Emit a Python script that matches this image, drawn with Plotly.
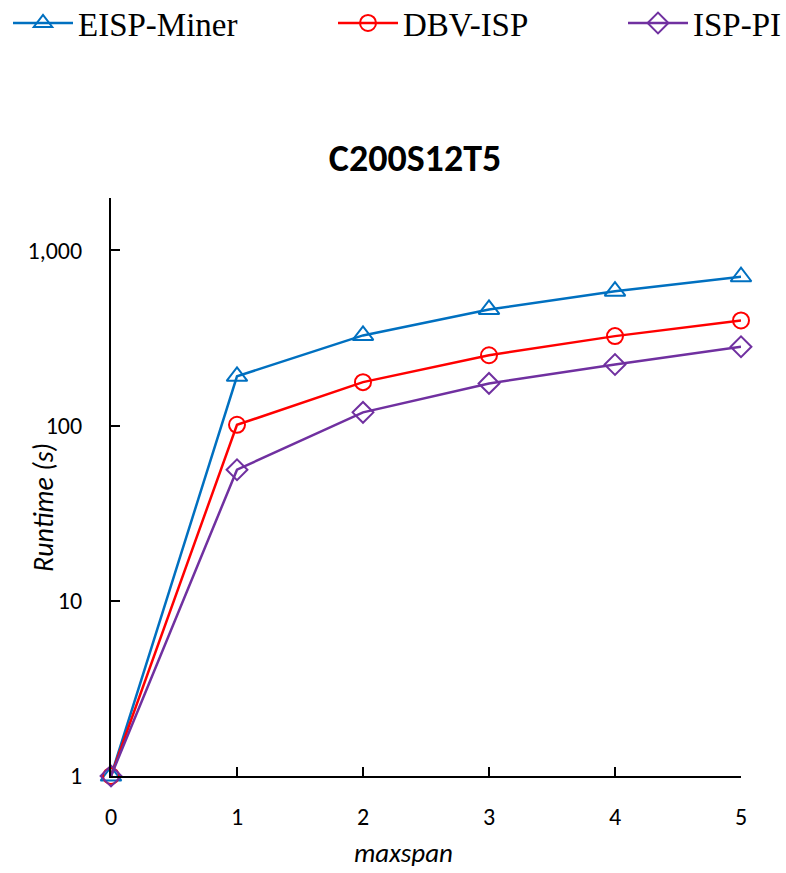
import plotly.graph_objects as go
import math

maxspan = [0, 1, 2, 3, 4, 5]
eisp_miner = [1, 191, 327, 460, 585, 707]
dbv_isp = [1, 101, 177, 252, 324, 398]
isp_pi = [1, 56, 119, 174, 223, 282]

y_tickvals = [1, 10, 100, 1000]
y_ticktext = ["1", "10", "100", "1,000"]
x_tickvals = [0, 1, 2, 3, 4, 5]

W, H = 786, 873
L, R, T, B = 111, 45, 198, 97
PW, PH = W - L - R, H - T - B
FONT = "Carlito, Lato, sans-serif"
tick_font = dict(family=FONT, size=24, color="black")

fig = go.Figure()
series = [
    ("EISP-Miner", eisp_miner, "#0070C0", "triangle-up-open", 18, "legend", 8),
    ("DBV-ISP", dbv_isp, "#FF0000", "circle-open", 16, "legend2", 333),
    ("ISP-PI", isp_pi, "#7030A0", "diamond-open", 16, "legend3", 623),
]
for name, vals, col, sym, sz, lg, _ in series:
    fig.add_trace(go.Scatter(
        x=maxspan, y=vals, name=name, mode="lines+markers",
        line=dict(color=col, width=2.5),
        marker=dict(symbol=sym, size=sz, color=col, line=dict(color=col, width=2)),
        cliponaxis=False, legend=lg,
    ))

legend_common = dict(
    orientation="h", xref="container", yref="container",
    yanchor="middle", xanchor="left", y=1.0 - 23 / H,
    font=dict(family="Liberation Serif, Times New Roman, serif", size=33, color="black"),
    bgcolor="rgba(0,0,0,0)", itemwidth=60, tracegroupgap=0,
)
layout_legends = {}
for name, vals, col, sym, sz, lg, px in series:
    layout_legends[lg] = dict(legend_common, x=px / W)

fig.update_layout(
    width=W, height=H,
    margin=dict(l=L, r=R, t=T, b=B),
    plot_bgcolor="white", paper_bgcolor="white",
    showlegend=True,
    title=dict(text="<b>C200S12T5</b>", x=415 / W, xanchor="center",
               y=1 - 158 / H, yanchor="middle",
               font=dict(family=FONT, size=38, color="black")),
    xaxis=dict(
        range=[0, 5], tickvals=x_tickvals, ticks="inside", ticklen=9, tickwidth=2,
        tickcolor="black", showline=True, linecolor="black", linewidth=2,
        showgrid=False, zeroline=False, tickfont=tick_font, ticklabelstandoff=18,
    ),
    yaxis=dict(
        type="log", range=[0, math.log10(1990)], tickvals=y_tickvals, ticktext=y_ticktext,
        ticks="inside", ticklen=9, tickwidth=2, tickcolor="black",
        showline=True, linecolor="black", linewidth=2, showgrid=False, zeroline=False,
        tickfont=tick_font, ticklabelstandoff=22,
    ),
    annotations=[
        dict(text="<i>Runtime (s)</i>", textangle=-90, xref="paper", yref="paper",
             x=(43 - L) / PW, y=(H - B - 508) / PH, xanchor="center", yanchor="middle",
             showarrow=False, font=dict(family=FONT, size=28, color="black")),
        dict(text="<i>maxspan</i>", xref="paper", yref="paper",
             x=(403 - L) / PW, y=-(852 - (H - B)) / PH, xanchor="center", yanchor="middle",
             showarrow=False, font=dict(family=FONT, size=27, color="black")),
    ],
    **layout_legends,
)

fig.write_html("out.html")
